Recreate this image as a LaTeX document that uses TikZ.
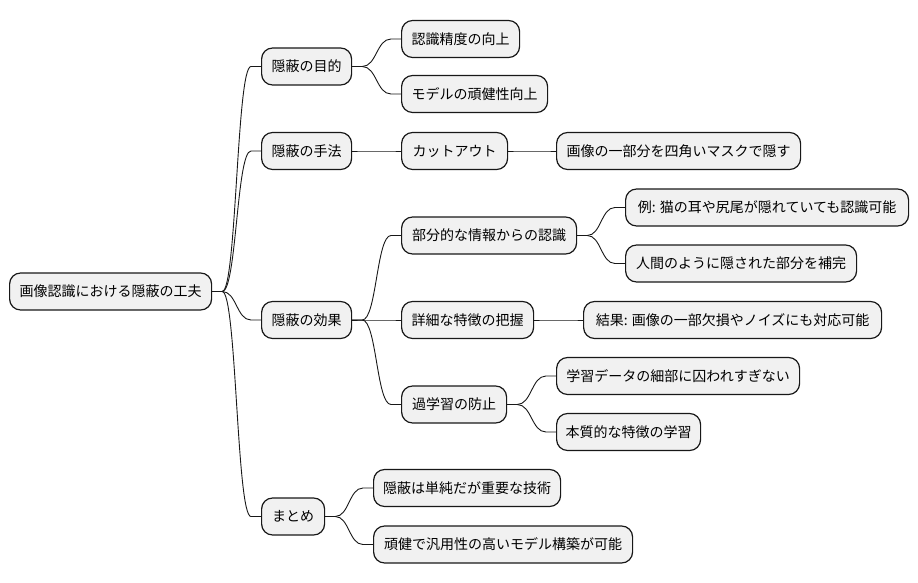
\documentclass[tikz,border=0pt]{standalone}
\usepackage{fontspec}
\setmainfont{Noto Sans CJK JP}
\usetikzlibrary{calc}
\definecolor{boxfill}{HTML}{F1F1F1}
\definecolor{boxline}{HTML}{181818}
\tikzset{
  mmbox/.style={draw=boxline, line width=1.2pt, fill=boxfill, rounded corners=11pt,
    minimum height=37pt, inner xsep=0pt, inner ysep=0pt, anchor=west,
    font=\fontsize{14pt}{16pt}\selectfont, text=black},
  mmline/.style={draw=boxline, line width=0.9pt}
}
\newcommand{\mmnode}[5]{\node[mmbox, minimum width=#3pt-#2pt] (#1) at (#2pt,-#4pt) {#5};}
\newcommand{\mmconn}[2]{%
  \path (#1.east) ++(10pt,0) coordinate (cs);
  \path (#2.west) ++(-10pt,0) coordinate (ce);
  \coordinate (cm) at ($(cs)!0.5!(ce)$);
  \draw[mmline] (#1.east) -- (cs) .. controls (cm |- cs) and (cm |- ce) .. (ce) -- (#2.west);
}
\begin{document}
\begin{tikzpicture}[x=1pt,y=1pt]
\useasboundingbox (0,0) rectangle (918,-583);
\mmnode{root}{9}{211}{291.5}{画像認識における隠蔽の工夫}
\mmnode{ma}{261}{351}{66.5}{隠蔽の目的}
\mmnode{maa}{401}{519}{39}{認識精度の向上}
\mmnode{mab}{401}{547}{94}{モデルの頑健性向上}
\mmnode{mb}{261}{351}{151}{隠蔽の手法}
\mmnode{mba}{401}{507}{151}{カットアウト}
\mmnode{mbb}{556}{800}{151}{画像の一部分を四角いマスクで隠す}
\mmnode{mc}{261}{351}{320}{隠蔽の効果}
\mmnode{mca}{401}{576}{235.5}{部分的な情報からの認識}
\mmnode{mcaa}{625}{908}{207.5}{例: 猫の耳や尻尾が隠れていても認識可能}
\mmnode{mcab}{625}{856}{263.5}{人間のように隠された部分を補完}
\mmnode{mcb}{401}{533}{320}{詳細な特徴の把握}
\mmnode{mcba}{583}{881}{320}{結果: 画像の一部欠損やノイズにも対応可能}
\mmnode{mcc}{401}{506}{404.5}{過学習の防止}
\mmnode{mcca}{556}{799}{376}{学習データの細部に囚われすぎない}
\mmnode{mccb}{556}{700}{432}{本質的な特徴の学習}
\mmnode{md}{261}{324}{516.5}{まとめ}
\mmnode{mda}{373}{560}{488}{隠蔽は単純だが重要な技術}
\mmnode{mdb}{373}{632}{544.5}{頑健で汎用性の高いモデル構築が可能}
\mmconn{root}{ma}
\mmconn{root}{mb}
\mmconn{root}{mc}
\mmconn{root}{md}
\mmconn{ma}{maa}
\mmconn{ma}{mab}
\mmconn{mb}{mba}
\mmconn{mba}{mbb}
\mmconn{mc}{mca}
\mmconn{mc}{mcb}
\mmconn{mc}{mcc}
\mmconn{mca}{mcaa}
\mmconn{mca}{mcab}
\mmconn{mcb}{mcba}
\mmconn{mcc}{mcca}
\mmconn{mcc}{mccb}
\mmconn{md}{mda}
\mmconn{md}{mdb}
\end{tikzpicture}
\end{document}
